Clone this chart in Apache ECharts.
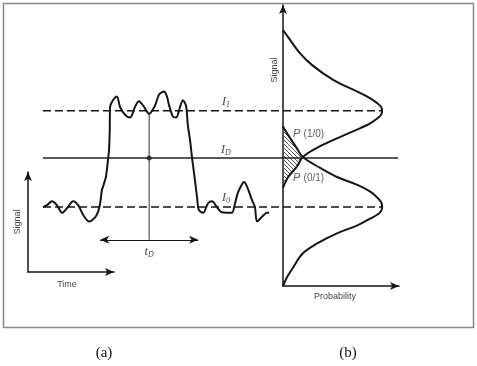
<!DOCTYPE html>
<html>
<head>
<meta charset="utf-8">
<script src="https://cdn.jsdelivr.net/npm/echarts@6/dist/echarts.min.js"></script>
<style>
html,body{margin:0;padding:0;background:#fff;}
#chart{width:477px;height:366px;}
</style>
</head>
<body>
<div id="chart"></div>
<script>
// ---- axis ranges ----
const signalMin = -0.82, signalMax = 2.1;
const timeMax = 100;
const probMax = 1.17;

// ---- signal levels ----
const levelI1 = 1.0;
const levelID = 0.51;
const levelI0 = 0.0;
const thresholdEndT = 95.5;   // dashed level lines reach the peaks of the distributions
const decisionEndT = 100;

// ---- noisy received pulse (panel a) ----
const waveT = [0.0,1.1,2.5,3.9,5.4,6.8,8.5,9.9,11.3,13.0,14.6,15.5,16.1,16.6,16.9,17.7,18.0,18.3,18.6,18.8,18.9,19.7,20.8,21.7,23.1,24.5,25.9,27.0,28.5,29.9,31.5,32.7,34.1,34.9,35.5,36.6,37.5,38.6,39.4,40.3,40.8,41.4,42.0,42.8,43.4,43.9,45.1,46.5,47.6,49.0,50.1,51.8,53.2,54.1,54.9,56.1,56.6,57.5,58.9,59.7,60.3,61.7,63.1,63.7];
const waveS = [0.00,0.02,0.06,0.02,-0.06,-0.01,0.06,0.02,-0.08,-0.15,-0.11,-0.05,0.04,0.18,0.21,0.31,0.39,0.49,0.59,0.80,1.04,1.11,1.15,1.04,0.96,0.93,1.04,1.10,1.04,0.97,1.05,1.17,1.20,1.15,1.06,0.94,0.93,1.04,1.11,1.05,0.85,0.70,0.51,0.28,0.10,-0.03,-0.06,0.04,0.06,0.00,-0.05,-0.06,-0.06,0.04,0.15,0.24,0.26,0.21,0.07,0.00,-0.15,-0.10,-0.06,-0.06];

// ---- decision time marker ----
const tD = 29.9;
const tDTopS = 0.97;
const tDArrowS = -0.34;
const tDArrowT = [16.1, 43.7];

// ---- probability distributions (panel b) ----
const upperP = [0,0.07,0.17,0.30,0.51,0.75,0.88,0.95,0.99,1.0,0.99,0.95,0.88,0.78,0.58,0.37,0.20,0.14,0.05,0];
const upperS = [1.84,1.74,1.60,1.47,1.32,1.20,1.13,1.08,1.04,1.0,0.96,0.92,0.87,0.82,0.73,0.63,0.52,0.42,0.31,0.20];
const lowerP = [0,0.02,0.07,0.14,0.20,0.37,0.55,0.75,0.88,0.95,0.99,1.0,0.99,0.95,0.88,0.75,0.55,0.34,0.20,0.10,0.04,0];
const lowerS = [0.84,0.80,0.72,0.61,0.52,0.41,0.31,0.23,0.16,0.10,0.05,0.0,-0.04,-0.08,-0.12,-0.19,-0.27,-0.38,-0.48,-0.63,-0.73,-0.82];
const crossS = 0.52;

// ---- label anchors ----
const levelLabelT = 51.5;
const tDLabelS = -0.46;
const pLabelP = 0.10;
const p10LabelS = 0.76;
const p01LabelS = 0.30;

const zip = (a, b) => a.map((v, i) => [v, b[i]]);
const upperCurve = zip(upperP, upperS);
const lowerCurve = zip(lowerP, lowerS);
// overlap region: lower distribution tail above crossing + upper distribution tail below crossing
const overlap = lowerCurve.filter(d => d[1] >= crossS && d[0] <= 0.21)
  .concat(upperCurve.filter(d => d[1] < crossS && d[0] <= 0.21));

// hatch pattern
const pc = document.createElement('canvas');
pc.width = 4; pc.height = 4;
const pctx = pc.getContext('2d');
pctx.strokeStyle = '#555'; pctx.lineWidth = 1;
pctx.beginPath();
pctx.moveTo(0, 0); pctx.lineTo(4, 4);
pctx.moveTo(-1, 3); pctx.lineTo(1, 5);
pctx.moveTo(3, -1); pctx.lineTo(5, 1);
pctx.stroke();

const ink = '#151515';
const richI = {
  i: {fontFamily: 'Liberation Serif', fontStyle: 'italic', fontSize: 13, color: '#222'},
  s: {fontFamily: 'Liberation Serif', fontStyle: 'italic', fontSize: 8, color: '#222', padding: [7, 0, 0, 0]},
  p: {fontFamily: 'Liberation Sans', fontStyle: 'italic', fontSize: 11, color: '#333'},
  n: {fontFamily: 'Liberation Sans', fontSize: 10, color: '#333'}
};

const chart = echarts.init(document.getElementById('chart'), null, {renderer: 'canvas'});
const arrowAxisLine = {show: true, onZero: false, symbol: ['none', 'arrow'], symbolSize: [6, 9], lineStyle: {color: ink, width: 1.5}};

chart.setOption({
  animation: false,
  backgroundColor: '#fff',
  grid: [
    {left: 43, top: 5, width: 355, height: 281},
    {left: 283, top: 5, width: 116, height: 281},
    {left: 28, top: 172, width: 86, height: 100}
  ],
  xAxis: [
    {gridIndex: 0, type: 'value', min: 0, max: timeMax, show: false},
    {gridIndex: 1, type: 'value', min: 0, max: probMax, axisLine: arrowAxisLine, axisTick: {show: false}, axisLabel: {show: false}, splitLine: {show: false},
      name: 'Probability', nameLocation: 'middle', nameGap: 6,
      nameTextStyle: {fontFamily: 'Liberation Sans', fontSize: 9, color: '#444', padding: [0, 12, 0, 0]}},
    {gridIndex: 2, type: 'value', min: 0, max: 1, axisLine: arrowAxisLine, axisTick: {show: false}, axisLabel: {show: false}, splitLine: {show: false},
      name: 'Time', nameLocation: 'middle', nameGap: 8,
      nameTextStyle: {fontFamily: 'Liberation Sans', fontSize: 9, color: '#444', padding: [0, 8, 0, 0]}}
  ],
  yAxis: [
    {gridIndex: 0, type: 'value', min: signalMin, max: signalMax, show: false},
    {gridIndex: 1, type: 'value', min: signalMin, max: signalMax, axisLine: arrowAxisLine, axisTick: {show: false}, axisLabel: {show: false}, splitLine: {show: false}},
    {gridIndex: 2, type: 'value', min: 0, max: 1, axisLine: arrowAxisLine, axisTick: {show: false}, axisLabel: {show: false}, splitLine: {show: false},
      name: 'Signal', nameLocation: 'middle', nameGap: 6,
      nameTextStyle: {fontFamily: 'Liberation Sans', fontSize: 9, color: '#444'}}
  ],
  series: [
    {type: 'line', xAxisIndex: 0, yAxisIndex: 0, data: [[0, levelI1], [thresholdEndT, levelI1]], showSymbol: false,
      lineStyle: {color: ink, width: 1.5, type: [8, 4]}},
    {type: 'line', xAxisIndex: 0, yAxisIndex: 0, data: [[0, levelI0], [thresholdEndT, levelI0]], showSymbol: false,
      lineStyle: {color: ink, width: 1.5, type: [8, 4]}},
    {type: 'line', xAxisIndex: 0, yAxisIndex: 0, data: [[0, levelID], [decisionEndT, levelID]], showSymbol: false,
      lineStyle: {color: '#222', width: 1.5}},
    {type: 'line', xAxisIndex: 0, yAxisIndex: 0, data: [[tD, tDTopS], [tD, tDArrowS]], showSymbol: false,
      lineStyle: {color: '#333', width: 1},
      markLine: {silent: true, symbol: ['arrow', 'arrow'], symbolSize: [6, 9], label: {show: false},
        lineStyle: {color: ink, width: 1.2, type: 'solid'},
        data: [[{coord: [tDArrowT[0], tDArrowS]}, {coord: [tDArrowT[1], tDArrowS]}]]}},
    {type: 'line', xAxisIndex: 0, yAxisIndex: 0, data: zip(waveT, waveS), showSymbol: false, smooth: 0.3,
      lineStyle: {color: ink, width: 2}},
    {type: 'scatter', xAxisIndex: 0, yAxisIndex: 0, data: [[tD, levelID]], symbol: 'circle', symbolSize: 5,
      itemStyle: {color: ink}},
    {type: 'scatter', xAxisIndex: 0, yAxisIndex: 0, symbolSize: 0, clip: false,
      data: [
        {value: [levelLabelT, levelI1 + 0.1], name: '{i|I}{s|1}'},
        {value: [levelLabelT, levelID + 0.09], name: '{i|I}{s|D}'},
        {value: [levelLabelT, levelI0 + 0.1], name: '{i|I}{s|0}'},
        {value: [tD, tDLabelS], name: '{i|t}{s|D}'}
      ],
      label: {show: true, position: 'inside', formatter: p => p.name, rich: richI}},
    {type: 'custom', xAxisIndex: 1, yAxisIndex: 1, data: [[0, 0]], clip: false,
      renderItem: (params, api) => ({
        type: 'polygon',
        shape: {points: overlap.map(d => api.coord(d))},
        style: {fill: {image: pc, repeat: 'repeat'}, stroke: '#666', lineWidth: 0.5}
      })},
    {type: 'line', xAxisIndex: 1, yAxisIndex: 1, data: upperCurve, showSymbol: false, smooth: 0.35,
      lineStyle: {color: ink, width: 2}},
    {type: 'line', xAxisIndex: 1, yAxisIndex: 1, data: lowerCurve, showSymbol: false, smooth: 0.35,
      lineStyle: {color: ink, width: 2}},
    {type: 'scatter', xAxisIndex: 1, yAxisIndex: 1, symbolSize: 0, clip: false,
      data: [
        {value: [pLabelP, p10LabelS], name: '{p|P} {n|(1/0)}'},
        {value: [pLabelP, p01LabelS], name: '{p|P} {n|(0/1)}'}
      ],
      label: {show: true, position: 'right', distance: 0, formatter: p => p.name, rich: richI}}
  ],
  graphic: [
    {type: 'rect', shape: {x: 3.5, y: 3.5, width: 470, height: 324}, style: {fill: 'none', stroke: '#888', lineWidth: 1.5}, silent: true},
    {type: 'text', x: 275, y: 70, rotation: Math.PI / 2,
      style: {text: 'Signal', fontFamily: 'Liberation Sans', fontSize: 9, fill: '#444', textAlign: 'center', textVerticalAlign: 'middle'}},
    {type: 'text', x: 104, y: 353,
      style: {text: '(a)', fontFamily: 'Liberation Serif', fontSize: 15, fill: '#111', textAlign: 'center', textVerticalAlign: 'middle'}},
    {type: 'text', x: 348, y: 353,
      style: {text: '(b)', fontFamily: 'Liberation Serif', fontSize: 15, fill: '#111', textAlign: 'center', textVerticalAlign: 'middle'}}
  ]
});
</script>
</body>
</html>
